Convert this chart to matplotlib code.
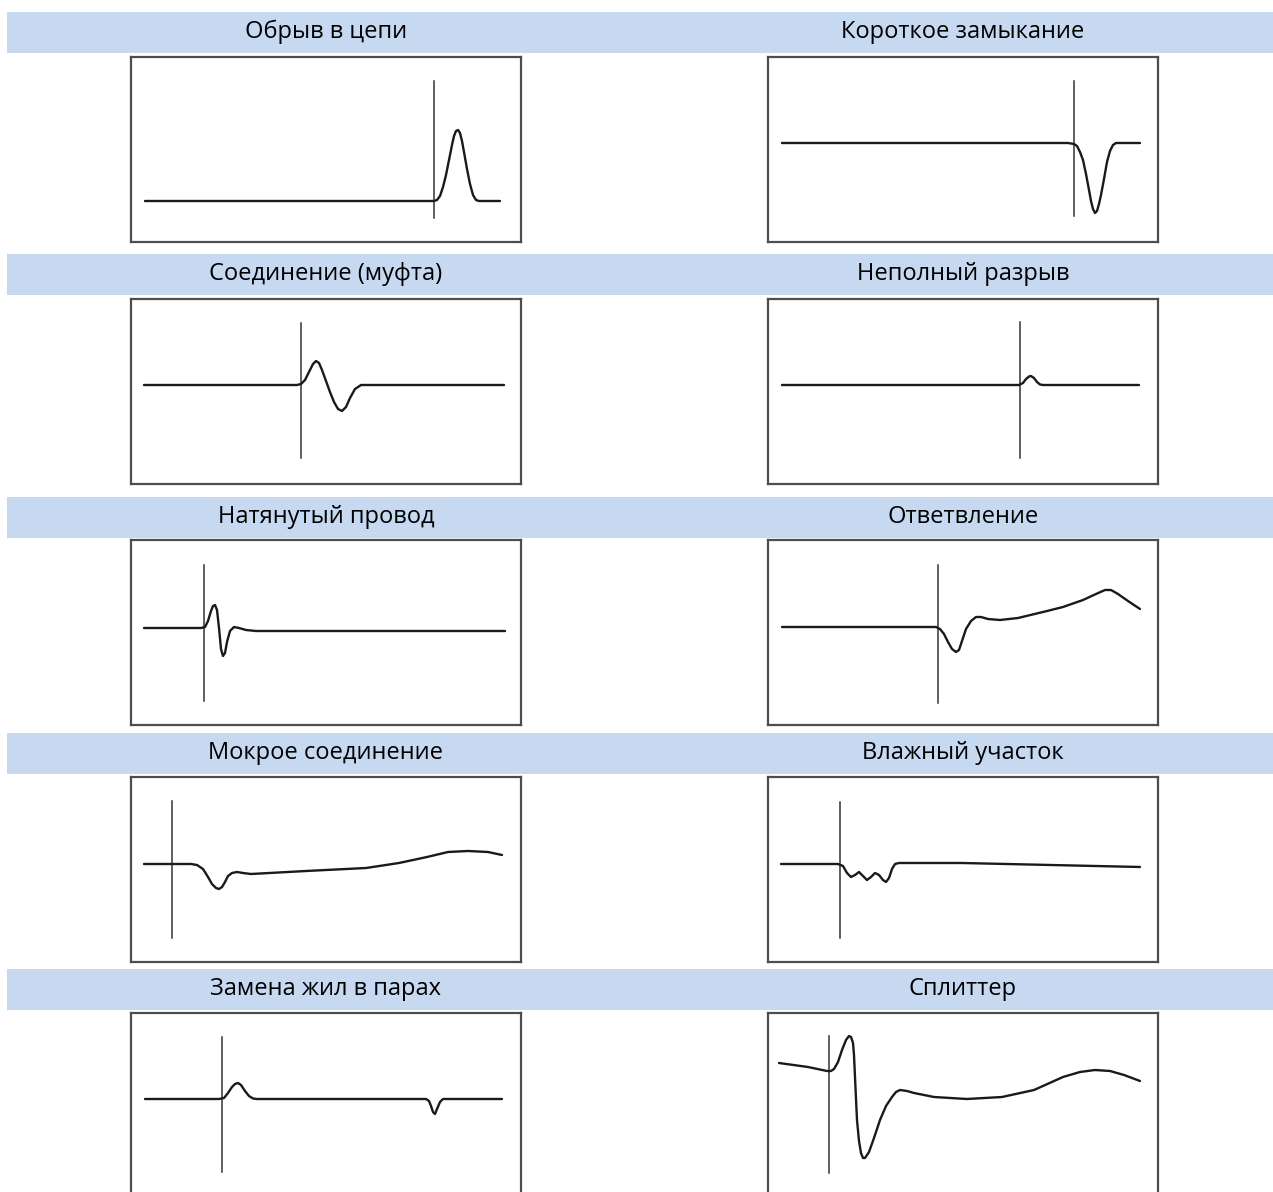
import matplotlib
matplotlib.use('Agg')
import matplotlib.pyplot as plt
from matplotlib.patches import Rectangle

# titles in reading order (left, right per row)
titles = ['Обрыв в цепи', 'Короткое замыкание',
          'Соединение (муфта)', 'Неполный разрыв',
          'Натянутый провод', 'Ответвление',
          'Мокрое соединение', 'Влажный участок',
          'Замена жил в парах', 'Сплиттер']

# waveforms, local box units (x: 0..390 left->right, y: 0..185 bottom->top)
obryv_x = [14, 290, 303, 306, 309, 312, 315, 318, 321, 323, 325, 327, 329, 331, 333, 336, 339, 342, 345, 348, 369]
obryv_y = [41, 41, 41, 42, 46, 55, 67, 82, 97, 106, 111, 112, 109, 101, 90, 73, 58, 47, 42, 41, 41]

kz_x = [14, 300, 306, 309, 312, 315, 318, 321, 323, 325, 327, 329, 331, 333, 336, 339, 342, 345, 348, 372]
kz_y = [99, 99, 98, 96, 90, 82, 68, 52, 41, 33, 29, 31, 38, 47, 63, 80, 91, 97, 99, 99]

mufta_x = [13, 166, 170, 174, 178, 182, 185, 188, 191, 195, 199, 203, 207, 211, 215, 219, 224, 230, 373]
mufta_y = [99, 99, 100, 104, 112, 120, 123, 121, 114, 103, 92, 82, 75, 73, 77, 86, 95, 99, 99]

razryv_x = [14, 251, 255, 258, 261, 263, 266, 269, 272, 275, 371]
razryv_y = [99, 99, 101, 105, 107.5, 108, 106, 102, 99.5, 99, 99]

provod_x = [13, 70, 74, 77, 80, 82, 84, 86, 88, 90, 92, 94, 96, 99, 103, 108, 115, 125, 374]
provod_y = [97, 97, 98, 104, 114, 119, 120, 115, 97, 76, 69, 72, 83, 94, 98, 97, 95, 94, 94]

otvetv_x = [14, 168, 172, 176, 180, 184, 188, 191, 194, 198, 203, 208, 213, 220, 232, 250, 275,
            295, 315, 328, 337, 343, 350, 360, 372]
otvetv_y = [98, 98, 96, 91, 83, 76, 73, 75, 84, 96, 104, 108, 108, 106, 105, 107, 113,
            118, 125, 131, 135, 135, 131, 124, 116]

mokroe_x = [13, 60, 66, 72, 77, 81, 85, 88, 91, 94, 97, 101, 106, 112, 120, 175, 235, 268,
            296, 317, 337, 357, 371]
mokroe_y = [98, 98, 97, 93, 85, 78, 74, 73, 75, 80, 86, 89, 90, 89, 88, 91, 94, 99,
            105, 110, 111, 110, 107]

vlazh_x = [13, 70, 75, 79, 83, 87, 91, 95, 99, 103, 107, 111, 115, 118, 121, 124, 127, 131, 194, 372]
vlazh_y = [98, 98, 96, 89, 85, 87, 90, 86, 82, 85, 89, 87, 82, 80, 84, 93, 98, 99, 99, 95]

zamena_x = [14, 88, 93, 97, 101, 104, 107, 110, 114, 118, 122, 126, 295, 298, 300, 302, 304,
            306, 309, 312, 371]
zamena_y = [99, 99, 100, 105, 111, 114, 115, 113, 107, 102, 99.5, 99, 99, 97, 92, 86, 84,
            89, 96, 99, 99]

splitter_x = [11, 40, 59, 63, 66, 70, 74, 78, 81, 83, 85, 86, 87, 88, 89, 91, 93, 95, 97, 99, 101,
              106, 112, 118, 124, 128, 132, 139, 146, 166, 199, 234, 266, 295, 312, 327, 342, 356, 372]
splitter_y = [135, 131, 127, 127, 129, 136, 148, 158, 162, 161, 155, 143, 121, 99, 78, 57, 45, 40, 40, 43, 46,
              60, 78, 92, 101, 106, 108, 107, 105, 101, 99, 101, 108, 121, 126, 128, 127, 123, 117]

curves_x = [obryv_x, kz_x, mufta_x, razryv_x, provod_x, otvetv_x, mokroe_x, vlazh_x, zamena_x, splitter_x]
curves_y = [obryv_y, kz_y, mufta_y, razryv_y, provod_y, otvetv_y, mokroe_y, vlazh_y, zamena_y, splitter_y]

# vertical marker line: x position, bottom, top
marker_x = [303, 306, 170, 252, 73, 170, 41, 72, 91, 61]
marker_lo = [24, 26, 26, 26, 24, 22, 24, 24, 26, 25]
marker_hi = [161, 161, 161, 162, 160, 160, 161, 160, 161, 162]

# layout in pixels
W, H = 1273, 1192
box_left = [131, 768]
box_top = [57, 299, 540, 777, 1013]
box_w, box_h = 390, 185
head_top = [12, 254, 497, 733, 969]
head_h = 41
head_left = [7, 640]
head_right = [640, 1273]

fig = plt.figure(figsize=(W / 100, H / 100), dpi=100)

for i, title in enumerate(titles):
    r, c = divmod(i, 2)
    # header band
    fig.patches.append(Rectangle((head_left[c] / W, 1 - (head_top[r] + head_h) / H),
                                 (head_right[c] - head_left[c]) / W, head_h / H,
                                 transform=fig.transFigure, facecolor='#c6d9f1',
                                 edgecolor='none', zorder=0))
    fig.text((box_left[c] + box_w / 2) / W, 1 - (head_top[r] + 26) / H, title,
             ha='center', va='baseline', fontsize=17, color='black',
             family=['Open Sans', 'DejaVu Sans'])

    ax = fig.add_axes([box_left[c] / W, 1 - (box_top[r] + box_h) / H, box_w / W, box_h / H])
    ax.set_xlim(0, box_w)
    ax.set_ylim(0, box_h)
    ax.set_xticks([])
    ax.set_yticks([])
    for s in ax.spines.values():
        s.set_color('#4d4d4d')
        s.set_linewidth(1.6)
    ax.plot([marker_x[i], marker_x[i]], [marker_lo[i], marker_hi[i]], color='#333333', lw=1.1)
    ax.plot(curves_x[i], curves_y[i], color='#1a1a1a', lw=1.7,
            solid_joinstyle='round', solid_capstyle='round')

fig.savefig('out.png', dpi=100)
